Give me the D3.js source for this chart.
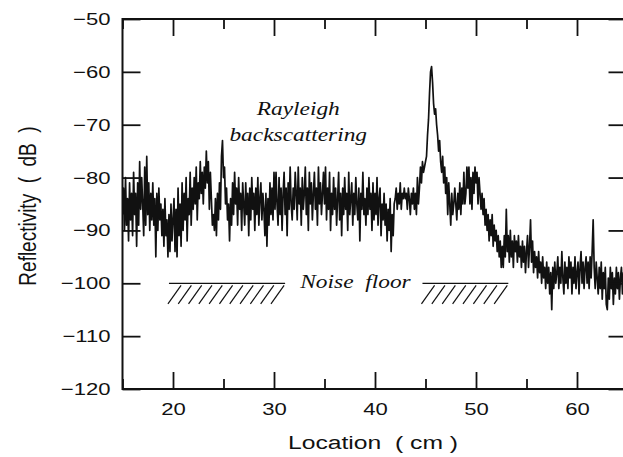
<!DOCTYPE html>
<html>
<head>
<meta charset="utf-8">
<script src="https://cdn.jsdelivr.net/npm/d3@7/dist/d3.min.js"></script>
<style>
  html, body { margin: 0; padding: 0; background: #fff; }
  svg { display: block; }
  .tick text { font-family: "Liberation Sans", Arial, Helvetica, sans-serif; font-size: 17px; fill: #111; }
</style>
</head>
<body>
<svg id="chart" width="623" height="457"></svg>
<script>
// OFDR trace: reflectivity (dB) sampled every 0.1 cm starting at 15 cm
const startLocation = 15;
const sampleStep = 0.1;
const reflectivity = [
  -87,-82,-90,-80,-89,-84,-92,-81,-88,-83, // 15
  -91,-79,-87,-83,-93,-81,-89,-77,-86,-80, // 16
  -85,-91,-78,-89,-76,-87,-81,-90,-83,-88, // 17
  -81,-89,-84,-95,-83,-90,-82,-88,-85,-91, // 18
  -86,-93,-84,-91,-88,-95,-87,-94,-85,-92, // 19
  -88,-84,-94,-86,-95,-82,-91,-85,-93,-81, // 20
  -90,-83,-88,-80,-92,-84,-87,-79,-89,-82, // 21
  -86,-80,-85,-78,-88,-81,-84,-77,-83,-79, // 22
  -85,-78,-82,-75,-81,-77,-86,-79,-84,-89, // 23
  -87,-90,-84,-91,-83,-88,-81,-86,-76,-73, // 24
  -80,-78,-85,-82,-88,-85,-92,-84,-89,-81, // 25
  -87,-79,-85,-82,-89,-80,-86,-83,-90,-81, // 26
  -85,-89,-81,-87,-83,-91,-82,-88,-80,-86, // 27
  -83,-90,-82,-87,-80,-89,-84,-81,-88,-83, // 28
  -86,-91,-83,-93,-84,-89,-81,-87,-82,-88, // 29
  -79,-86,-79,-85,-89,-80,-87,-82,-90,-83, // 30
  -79,-87,-82,-91,-81,-86,-78,-85,-88,-82, // 31
  -86,-79,-83,-88,-78,-85,-82,-89,-80,-86, // 32
  -83,-78,-87,-82,-90,-79,-85,-81,-88,-83, // 33
  -79,-86,-82,-89,-78,-85,-81,-87,-83,-79, // 34
  -85,-78,-88,-82,-86,-79,-90,-83,-87,-80, // 35
  -86,-82,-89,-84,-79,-88,-83,-91,-82,-87, // 36
  -80,-86,-83,-90,-79,-87,-84,-81,-89,-83, // 37
  -87,-80,-85,-88,-82,-92,-83,-86,-79,-87, // 38
  -84,-89,-82,-87,-80,-86,-83,-90,-81,-88, // 39
  -83,-87,-80,-89,-84,-82,-91,-85,-88,-83, // 40
  -89,-85,-92,-86,-90,-84,-94,-87,-91,-85, // 41
  -84,-82,-86,-83,-85,-81,-86,-83,-84,-82, // 42
  -84,-83,-86,-82,-84,-87,-83,-85,-82,-86, // 43
  -83,-87,-80,-85,-82,-78,-81,-77,-79,-78, // 44
  -77,-76,-72,-69,-64,-60,-59,-62,-66,-68, // 45
  -67,-70,-72,-75,-73,-77,-79,-76,-81,-78, // 46
  -83,-80,-87,-81,-85,-89,-83,-87,-85,-82, // 47
  -85,-88,-83,-86,-81,-87,-82,-85,-79,-85, // 48
  -83,-78,-82,-78,-85,-80,-86,-79,-83,-78, // 49
  -81,-79,-85,-80,-83,-86,-83,-87,-84,-89, // 50
  -86,-90,-87,-92,-88,-91,-87,-93,-89,-92, // 51
  -90,-94,-91,-95,-92,-97,-93,-97,-91,-95, // 52
  -86,-94,-91,-96,-90,-95,-92,-97,-91,-94, // 53
  -92,-96,-91,-95,-93,-97,-92,-96,-93,-98, // 54
  -94,-91,-97,-93,-88,-96,-92,-98,-94,-97, // 55
  -95,-99,-94,-98,-96,-100,-95,-99,-97,-101, // 56
  -96,-100,-97,-102,-98,-105,-97,-101,-96,-100, // 57
  -98,-95,-101,-97,-100,-94,-99,-102,-96,-100, // 58
  -97,-101,-95,-99,-96,-102,-97,-100,-95,-101, // 59
  -98,-96,-102,-97,-94,-100,-96,-101,-97,-95, // 60
  -100,-96,-101,-95,-99,-94,-88,-97,-101,-96, // 61
  -99,-102,-97,-101,-96,-103,-98,-101,-97,-104, // 62
  -105,-99,-103,-97,-101,-98,-104,-99,-102,-97, // 63
  -101,-98,-103,-99,-97,-102,-98,-101,-96,-100, // 64
  -98
];

const xMajorTicks = [20, 30, 40, 50, 60];
const xMinorTicks = [15, 25, 35, 45, 55, 65];
const yTicks = [-50, -60, -70, -80, -90, -100, -110, -120];

const noiseFloorLevel = -100;
const noiseFloorSpans = [[19.6, 31.1], [44.7, 53.2]];

const svg = d3.select("#chart");
const plot = { left: 122.5, right: 627.5, top: 19, bottom: 389 };
const textStretch = 1.3;   // lettering in this figure is set wide

const x = d3.scaleLinear().domain([15, 65]).range([plot.left, plot.right]);
const y = d3.scaleLinear().domain([-120, -50]).range([plot.bottom, plot.top]);

const points = reflectivity.map((v, i) => ({ loc: startLocation + i * sampleStep, db: v }));

svg.append("clipPath").attr("id", "plot-clip")
  .append("rect")
  .attr("x", plot.left).attr("y", plot.top)
  .attr("width", plot.right - plot.left).attr("height", plot.bottom - plot.top);

// trace
svg.append("path")
  .datum(points)
  .attr("clip-path", "url(#plot-clip)")
  .attr("fill", "none")
  .attr("stroke", "#111")
  .attr("stroke-width", 1.7)
  .attr("stroke-linejoin", "round")
  .attr("d", d3.line().x(d => x(d.loc)).y(d => y(d.db)));

// axes: ticks point into the plot
function styleAxis(g) {
  g.select(".domain").remove();
  g.selectAll(".tick line").attr("stroke", "#111").attr("stroke-width", 1.8);
}

svg.append("g")
  .attr("transform", `translate(0,${plot.bottom})`)
  .call(d3.axisBottom(x).tickValues(xMajorTicks).tickSize(-17).tickPadding(14).tickFormat(d3.format("d")))
  .call(styleAxis)
  .call(g => g.selectAll(".tick text").attr("transform", `scale(${textStretch},1)`));
svg.append("g")
  .attr("transform", `translate(0,${plot.bottom})`)
  .call(d3.axisBottom(x).tickValues(xMinorTicks).tickSize(-10).tickFormat(""))
  .call(styleAxis);
svg.append("g")
  .attr("transform", `translate(0,${plot.top})`)
  .call(d3.axisTop(x).tickValues(xMajorTicks).tickSize(-17).tickFormat(""))
  .call(styleAxis);
svg.append("g")
  .attr("transform", `translate(0,${plot.top})`)
  .call(d3.axisTop(x).tickValues(xMinorTicks).tickSize(-10).tickFormat(""))
  .call(styleAxis);
svg.append("g")
  .attr("transform", `translate(${plot.left},0)`)
  .call(d3.axisLeft(y).tickValues(yTicks).tickSize(-18).tickPadding(12).tickFormat(d3.format("d")))
  .call(styleAxis)
  .call(g => g.selectAll(".tick text")
    .attr("x", -12 / textStretch)
    .attr("transform", `scale(${textStretch},1)`));
svg.append("g")
  .attr("transform", `translate(${plot.right},0)`)
  .call(d3.axisRight(y).tickValues(yTicks).tickSize(-19).tickFormat(""))
  .call(styleAxis);

// frame
svg.append("rect")
  .attr("x", plot.left).attr("y", plot.top)
  .attr("width", plot.right - plot.left).attr("height", plot.bottom - plot.top)
  .attr("fill", "none").attr("stroke", "#111").attr("stroke-width", 2);

// axis titles
const sans = "'Liberation Sans', Arial, Helvetica, sans-serif";
svg.append("text")
  .attr("transform", `translate(${(plot.left + plot.right) / 2 - 2},449) scale(${textStretch},1)`)
  .attr("text-anchor", "middle")
  .style("white-space", "pre")
  .attr("font-family", sans)
  .attr("font-size", 19).attr("fill", "#111")
  .text("Location  ( cm )");
svg.append("text")
  .attr("transform", `translate(36,${(plot.top + plot.bottom) / 2 + 2}) scale(${textStretch},1) rotate(-90)`)
  .attr("text-anchor", "middle")
  .style("white-space", "pre")
  .attr("font-family", sans)
  .attr("font-size", 19).attr("fill", "#111")
  .text("Reflectivity  (  dB  )");

// annotations
const serif = "'Liberation Serif', 'Times New Roman', serif";
function note(text, loc, db, anchor) {
  svg.append("text")
    .attr("transform", `translate(${x(loc)},${y(db)}) scale(${textStretch},1)`)
    .attr("text-anchor", anchor)
    .style("white-space", "pre")
    .attr("font-family", serif).attr("font-style", "italic")
    .attr("font-size", 18).attr("fill", "#111")
    .text(text);
}
note("Rayleigh", 32.4, -68.1, "middle");
note("backscattering", 32.4, -73.1, "middle");
note("Noise  floor", 32.6, -100.9, "start");

// noise floor level with hatching underneath
const hatchDepth = 3.9;   // dB below the level
const hatchRun = 1.3;     // cm of slant per hatch
const hatchGap = 1.05;    // cm between hatches
noiseFloorSpans.forEach(([a, b]) => {
  const g = svg.append("g").attr("stroke", "#111").attr("stroke-width", 1.2);
  g.append("line")
    .attr("x1", x(a)).attr("x2", x(b))
    .attr("y1", y(noiseFloorLevel)).attr("y2", y(noiseFloorLevel));
  const n = Math.round((b - a - hatchRun) / hatchGap) + 1;
  const starts = d3.range(n).map(i => a - 0.1 + i * (b - a - hatchRun) / (n - 1));
  g.selectAll("line.hatch").data(starts).join("line")
    .attr("class", "hatch")
    .attr("x1", d => x(d)).attr("y1", y(noiseFloorLevel - hatchDepth))
    .attr("x2", d => x(d + hatchRun)).attr("y2", y(noiseFloorLevel - 0.4));
});
</script>
</body>
</html>
